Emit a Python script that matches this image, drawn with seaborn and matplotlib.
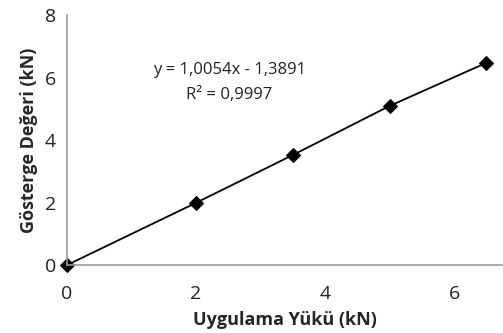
import matplotlib
matplotlib.use("Agg")
import matplotlib.pyplot as plt
import seaborn as sns
import pandas as pd

load = [0, 2, 3.5, 5, 6.5]
reading = [0, 1.99, 3.52, 5.09, 6.47]
xticks = [0, 2, 4, 6]
yticks = [0, 2, 4, 6, 8]

sns.set_style("white")
plt.rcParams['font.family'] = ['Open Sans', 'DejaVu Sans']

df = pd.DataFrame({"x": load, "y": reading})
fig = plt.figure(figsize=(5.03, 3.33), dpi=100)
ax = fig.add_axes([0.133, 0.204, 0.866, 0.751])
sns.lineplot(data=df, x="x", y="y", ax=ax, color="black", linewidth=1.3,
             marker="D", markersize=7, markeredgecolor="black", markerfacecolor="black",
             clip_on=False)
ax.set_xlim(0, 6.75)
ax.set_ylim(0, 8)
ax.set_xticks(xticks)
ax.set_yticks(yticks)
ax.set_xticklabels([str(t) for t in xticks], fontsize=14, color="#222222")
ax.set_yticklabels([str(t) for t in yticks], fontsize=14, color="#222222")
for s in ["top", "right"]:
    ax.spines[s].set_visible(False)
for s in ["left", "bottom"]:
    ax.spines[s].set_color("#999999")
    ax.spines[s].set_linewidth(1.2)
ax.tick_params(axis="y", direction="out", length=5, color="#999999", width=1.2, pad=3)
ax.tick_params(axis="x", direction="out", length=5, color="#999999", width=1.2, pad=9)
ax.set_xlabel("Uygulama Yükü (kN)", fontsize=13, fontweight="bold", labelpad=6)
ax.set_ylabel("Gösterge Değeri (kN)", fontsize=13, fontweight="bold", labelpad=5)
ax.text(2.52, 6.25, "y = 1,0054x - 1,3891", ha="center", va="center", fontsize=12, color="#222222")
ax.text(2.52, 5.45, "R² = 0,9997", ha="center", va="center", fontsize=12, color="#222222")
fig.savefig("out.png", dpi=100)
